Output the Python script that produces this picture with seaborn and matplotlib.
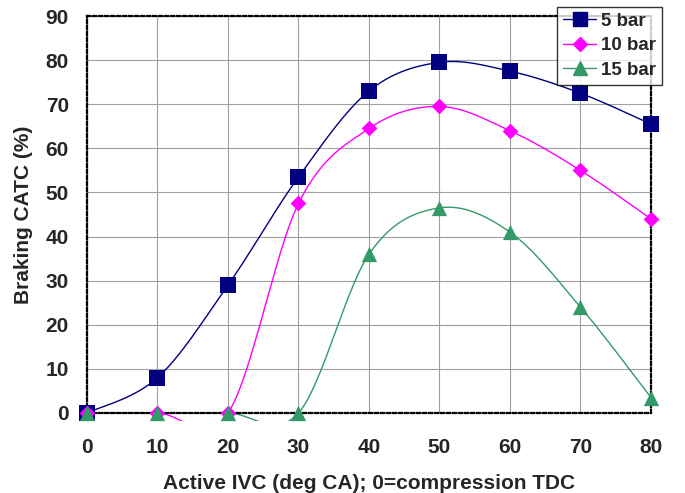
import numpy as np
import matplotlib
matplotlib.use("Agg")
import matplotlib.pyplot as plt
import seaborn as sns
import pandas as pd
from matplotlib.lines import Line2D
from matplotlib.patches import Rectangle

ivc = [0, 10, 20, 30, 40, 50, 60, 70, 80]
bar5 = [0, 8, 29, 53.5, 73, 79.5, 77.5, 72.5, 65.5]
bar10 = [0, 0, 0, 47.5, 64.5, 69.5, 64, 55, 44]
bar15 = [0, 0, 0, 0, 36, 46.5, 41, 24, 3.5]
series_names = ["5 bar", "10 bar", "15 bar"]

sns.set_theme(style="white")
plt.rcParams['font.family'] = ['Liberation Sans', 'DejaVu Sans']
plt.rcParams['font.weight'] = 'bold'

def smooth(x, y, n=30):
    P = np.column_stack([x, y]).astype(float)
    out = []
    for i in range(len(P) - 1):
        p0 = P[i - 1] if i > 0 else P[i]
        p1 = P[i]
        p2 = P[i + 1]
        p3 = P[i + 2] if i + 2 < len(P) else P[i + 1]
        c1 = p1 + (p2 - p0) / 6
        c2 = p2 - (p3 - p1) / 6
        t = np.linspace(0, 1, n)[:, None]
        seg = ((1 - t) ** 3) * p1 + 3 * ((1 - t) ** 2) * t * c1 + 3 * (1 - t) * t ** 2 * c2 + t ** 3 * p2
        out.append(seg if i == 0 else seg[1:])
    s = np.vstack(out)
    return s[:, 0], s[:, 1]

fig = plt.figure(figsize=(6.85, 4.93), dpi=100)
ax = fig.add_axes([87 / 685, 1 - 413 / 493, (651 - 87) / 685, (413 - 16) / 493])

styles = [
    dict(color="#000080", marker="s", ms=11),
    dict(color="#FF00FF", marker="D", ms=8),
    dict(color="#339966", marker="^", ms=11),
]
clip_rect = Rectangle((0, -0.02), 1, 1.04, transform=ax.transAxes, facecolor="none", edgecolor="none")
ax.add_patch(clip_rect)

handles = []
for name, vals, st in zip(series_names, [bar5, bar10, bar15], styles):
    sx, sy = smooth(ivc, vals)
    df = pd.DataFrame({"x": sx, "y": sy})
    sns.lineplot(data=df, x="x", y="y", ax=ax, color=st["color"], lw=1.0, sort=False, estimator=None)
    ax.lines[-1].set_clip_path(clip_rect)
    dm = pd.DataFrame({"x": ivc, "y": vals})
    sns.scatterplot(data=dm, x="x", y="y", ax=ax, color=st["color"], marker=st["marker"],
                    s=st["ms"] ** 2, edgecolor=st["color"], linewidth=0, zorder=5, clip_on=False)
    handles.append(Line2D([0], [0], color=st["color"], lw=1.0, marker=st["marker"],
                          markersize=st["ms"] * 0.95, markeredgecolor=st["color"]))

ax.set_xlim(0, 80)
ax.set_ylim(0, 90)
ax.set_xticks(ivc)
ax.set_yticks(np.arange(0, 91, 10))
ax.grid(True, color="#a0a0a0", lw=0.8, ls="-")
for sp in ax.spines.values():
    sp.set_linestyle((0, (1.5, 1.2)))
    sp.set_linewidth(1.6)
    sp.set_color("black")
ax.tick_params(axis="x", direction="inout", length=12, width=1, color="black",
               labelsize=15, pad=12)
ax.tick_params(axis="y", direction="out", length=7, width=1, color="black",
               labelsize=15, pad=6)
for lab in ax.get_xticklabels() + ax.get_yticklabels():
    lab.set_fontweight("bold")
ax.set_xlabel("Active IVC (deg CA); 0=compression TDC", fontsize=15, fontweight="bold", labelpad=12)
ax.set_ylabel("Braking CATC (%)", fontsize=15, fontweight="bold", labelpad=9)

leg = fig.legend(handles, series_names, loc="upper left", bbox_to_anchor=(557 / 685, 1 - 7 / 493),
                 frameon=True, fancybox=False, edgecolor="black", fontsize=13.5,
                 handlelength=1.8, borderpad=0.3, labelspacing=0.4, handletextpad=0.25,
                 borderaxespad=0)
leg.get_frame().set_linewidth(1.0)
for t in leg.get_texts():
    t.set_fontweight("bold")

fig.savefig("out.png", dpi=100)
